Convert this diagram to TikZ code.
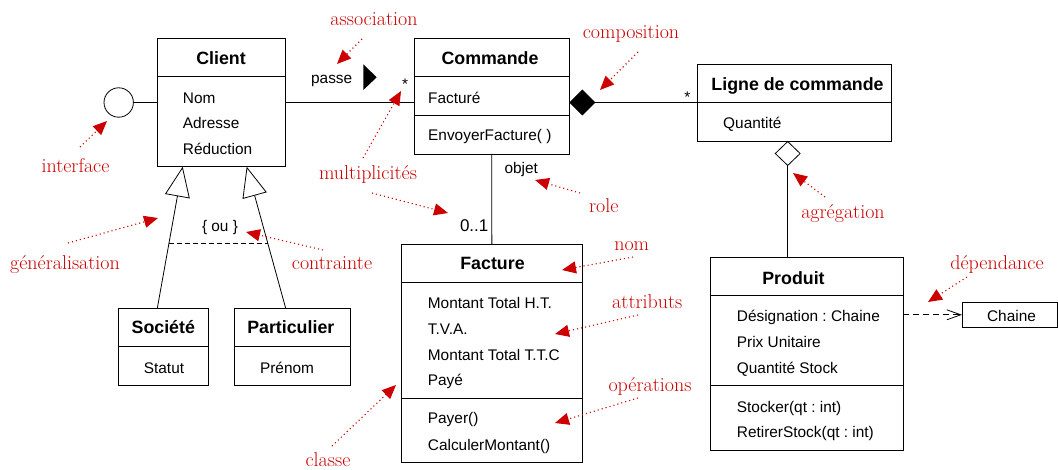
\documentclass[tikz,border=0pt]{standalone}
\usepackage{fontspec}
\newfontfamily\umlfont{Liberation Sans}
\usetikzlibrary{arrows.meta,calc}
\definecolor{annot}{RGB}{204,0,0}
\frenchspacing
\begin{document}
\begin{tikzpicture}[x=1pt,y=-1pt,
 box/.style={draw, line width=0.8pt, inner sep=0pt, outer sep=0pt},
 attr/.style={anchor=base west, inner sep=0pt, font=\umlfont\frenchspacing\fontsize{15.4}{18}\selectfont},
 title/.style={anchor=base, inner sep=0pt, font=\umlfont\bfseries\fontsize{17.8}{20}\selectfont},
 lbl/.style={anchor=base, inner sep=0pt, font=\umlfont\fontsize{15.4}{18}\selectfont},
 note/.style={anchor=base, inner sep=0pt, text=annot, font=\fontsize{20}{22}\selectfont},
 pointer/.style={annot, line width=1.1pt, dash pattern=on 1.1pt off 3pt, -{Triangle[length=14pt,width=12pt]}},
 conn/.style={line width=0.8pt},
]
\fill[white] (0,0) rectangle (1058,470);
\useasboundingbox (0,0) rectangle (1058,470);

% ---------- class boxes ----------
\node[box, minimum width=128.4pt, minimum height=128.4pt] (client) at (221.5,102.5) {};
\draw[conn] ([yshift=-38.4pt]client.north west) -- ([yshift=-38.4pt]client.north east);
\node[title] (tclient) at (221,64.3) {Client};
\node[attr] (a1) at (182.7,103.3) {Nom};
\node[attr] (a2) at (182.7,128.3) {Adresse};
\node[attr] (a3) at (182.7,154.3) {Réduction};

\node[box, minimum width=155pt, minimum height=115.7pt] (commande) at (491.8,96.15) {};
\draw[conn] ([yshift=-38.4pt]commande.north west) -- ([yshift=-38.4pt]commande.north east);
\draw[conn] ([yshift=-77.4pt]commande.north west) -- ([yshift=-77.4pt]commande.north east);
\node[title] (tcommande) at (490,64.3) {Commande};
\node[attr] (c1) at (428,103.3) {Facturé};
\node[attr] (c2) at (428,141) {EnvoyerFacture( )};

\node[box, minimum width=193.7pt, minimum height=77pt] (ligne) at (794.15,102.5) {};
\draw[conn] ([yshift=-38.3pt]ligne.north west) -- ([yshift=-38.3pt]ligne.north east);
\node[title] (tligne) at (797.5,90.7) {Ligne de commande};
\node[attr] (l1) at (723,128.3) {Quantité};

\node[box, minimum width=192.6pt, minimum height=192.7pt] (produit) at (807,353.65) {};
\draw[conn] ([yshift=-38.4pt]produit.north west) -- ([yshift=-38.4pt]produit.north east);
\draw[conn] ([yshift=-128.4pt]produit.north west) -- ([yshift=-128.4pt]produit.north east);
\node[title] (tproduit) at (793.5,284.3) {Produit};
\node[attr] (p1) at (736.7,321.7) {Désignation : Chaine};
\node[attr] (p2) at (736.7,347.3) {Prix Unitaire};
\node[attr] (p3) at (736.7,373.3) {Quantité Stock};
\node[attr] (p4) at (736.7,412.3) {Stocker(qt : int)};
\node[attr] (p5) at (736.7,437.7) {RetirerStock(qt : int)};

\node[box, minimum width=95.5pt, minimum height=25pt] (chaine) at (1009.75,314.8) {};
\node[lbl] (tchaine) at (1011.5,321.7) {Chaine};

\node[box, minimum width=180.3pt, minimum height=218.3pt] (facture) at (491.85,353.15) {};
\draw[conn] ([yshift=-38.3pt]facture.north west) -- ([yshift=-38.3pt]facture.north east);
\draw[conn] ([yshift=-154.3pt]facture.north west) -- ([yshift=-154.3pt]facture.north east);
\node[title] (tfacture) at (492.5,270) {Facture};
\node[attr] (f1) at (427.7,309) {Montant Total H.T.};
\node[attr] (f2) at (427.7,334.3) {T.V.A.};
\node[attr] (f3) at (427.7,360) {Montant Total T.T.C};
\node[attr] (f4) at (427.7,385.7) {Payé};
\node[attr] (f5) at (427.7,424) {Payer()};
\node[attr] (f6) at (427.7,450) {CalculerMontant()};

\node[box, minimum width=90.4pt, minimum height=77.4pt] (societe) at (163.5,347) {};
\draw[conn] ([yshift=-38.4pt]societe.north west) -- ([yshift=-38.4pt]societe.north east);
\node[title] (tsociete) at (163.3,334) {Société};
\node[lbl] (s1) at (164,373.3) {Statut};

\node[box, minimum width=116pt, minimum height=77.4pt] (particulier) at (292.3,347) {};
\draw[conn] ([yshift=-38.4pt]particulier.north west) -- ([yshift=-38.4pt]particulier.north east);
\node[title] (tparticulier) at (290.8,334) {Particulier};
\node[lbl] (pa1) at (287,373.3) {Prénom};

% ---------- interface ----------
\node[circle, draw, line width=0.8pt, minimum size=29.4pt, inner sep=0pt] (iface) at (118.7,102.5) {};
\draw[conn] (iface.east) -- (client.west);

% ---------- association ----------
\draw[conn] (client.east) -- (commande.west |- client.east);
\node[lbl] (passe) at (331.7,83.3) {passe};
\fill (363.3,64.3) -- (376.7,77.3) -- (363.3,90) -- cycle;
\node[lbl] (m1) at (405,90) {*};

% ---------- composition ----------
\draw[conn, {Diamond[length=26pt,width=26pt]}-] (commande.east |- ligne.west) -- (ligne.west);
\node[lbl] (m2) at (687.3,102.8) {*};

% ---------- Commande -- Facture ----------
\draw[conn] (commande.south) -- (facture.north);
\node[lbl] (objet) at (521.2,173.3) {objet};
\node[lbl, font=\umlfont\fontsize{17}{20}\selectfont] (m3) at (474.2,231.7) {0..1};

% ---------- aggregation ----------
\coordinate (agg) at (787.7,141);
\draw[conn, {Diamond[open,length=25pt,width=26pt]}-] (agg) -- (produit.north -| agg);

% ---------- dependency ----------
\draw[conn, dash pattern=on 6pt off 4pt, -{Straight Barb[length=14pt,width=10pt]}] (produit.east |- chaine.west) -- (chaine.west);

% ---------- generalisation ----------
\coordinate (g1) at ([xshift=25.4pt]client.south west);
\coordinate (g2) at ([xshift=89.4pt]client.south west);
\coordinate (s0) at ([xshift=-6.2pt]societe.north);
\coordinate (p0) at ([xshift=-6.6pt]particulier.north);
\draw[conn, -{Triangle[open,length=30pt,width=25pt,line width=0.8pt]}] (s0) -- (g1);
\draw[conn, -{Triangle[open,length=30pt,width=25pt,line width=0.8pt]}] (p0) -- (g2);
\coordinate (k1) at ($(s0)!0.457!(g1)$);
\coordinate (k2) at ($(p0)!0.457!(g2)$);
\draw[conn, dash pattern=on 5pt off 3pt] (k1) -- (k2);
\node[lbl] (ou) at (220,231.7) {\{ ou \}};

% ---------- annotations ----------
\node[note] (nassoc) at (374,25.5) {association};
\node[note] (ninterface) at (75.5,172.7) {interface};
\node[note] (nmulti) at (368,180) {multiplicités};
\node[note] (ncompo) at (631,38.3) {composition};
\node[note] (nrole) at (603.7,212.3) {role};
\node[note] (nagreg) at (843,219) {agrégation};
\node[note] (ndep) at (997,270) {dépendance};
\node[note] (ngen) at (65,270) {généralisation};
\node[note] (ncontr) at (332,270) {contrainte};
\node[note] (nnom) at (631.7,250.7) {nom};
\node[note] (nattr) at (647.3,308.3) {attributs};
\node[note] (nops) at (650,391.7) {opérations};
\node[note] (nclasse) at (328,466.5) {classe};

\coordinate (t1) at (362,39);   \coordinate (h1) at (337,64);
\coordinate (t2) at (80,147);   \coordinate (h2) at (107,121);
\coordinate (t3) at (363,158);  \coordinate (h3) at (401,91);
\coordinate (t4) at (372,193);  \coordinate (h4) at (448,213);
\coordinate (t5) at (638,52);   \coordinate (h5) at (600,90);
\coordinate (t6) at (580,193);  \coordinate (h6) at (535,180);
\coordinate (t7) at (825,197);  \coordinate (h7) at (793,173);
\coordinate (t8) at (967,277);  \coordinate (h8) at (928,302);
\coordinate (t9) at (68,243);   \coordinate (h9) at (158,218);
\coordinate (t10) at (323,250); \coordinate (h10) at (246,232);
\coordinate (t11) at (633,257); \coordinate (h11) at (562,270);
\coordinate (t12) at (638,315); \coordinate (h12) at (555,334);
\coordinate (t13) at (638,398); \coordinate (h13) at (555,423);
\coordinate (t14) at (332,446); \coordinate (h14) at (396,385);
\foreach \i in {1,...,14} {\draw[pointer] (t\i) -- (h\i);}
\end{tikzpicture}
\end{document}
